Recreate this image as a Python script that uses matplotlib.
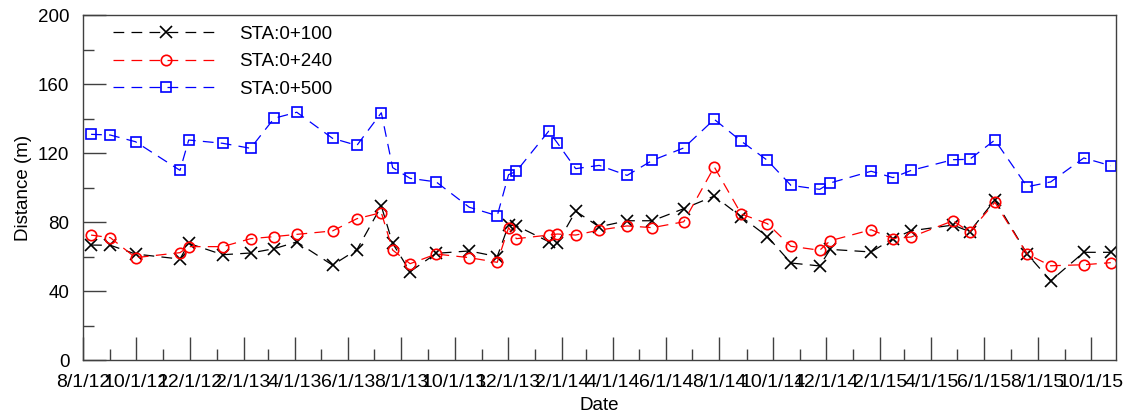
import matplotlib
matplotlib.use("Agg")
import matplotlib.pyplot as plt
import matplotlib.dates as mdates
import numpy as np
from datetime import datetime

dates = ["2012-08-10", "2012-09-01", "2012-09-30", "2012-11-20", "2012-11-30",
         "2013-01-08", "2013-02-09", "2013-03-08", "2013-04-03", "2013-05-14",
         "2013-06-11", "2013-07-09", "2013-07-22", "2013-08-11", "2013-09-10",
         "2013-10-18", "2013-11-19", "2013-12-02", "2013-12-11", "2014-01-17",
         "2014-01-27", "2014-02-17", "2014-03-16", "2014-04-17", "2014-05-16",
         "2014-06-21", "2014-07-26", "2014-08-26", "2014-09-25", "2014-10-22",
         "2014-11-24", "2014-12-06", "2015-01-22", "2015-02-16", "2015-03-09",
         "2015-04-26", "2015-05-15", "2015-06-13", "2015-07-20", "2015-08-16",
         "2015-09-23", "2015-10-24"]

sta_100 = [66.8, 66.7, 61.6, 58.7, 67.8, 61.2, 62.2, 64.7, 68.6, 55.2,
           64.1, 89.4, 67.8, 51.4, 62.0, 63.4, 60.1, 78.4, 78.0, 68.8,
           67.8, 86.4, 77.4, 80.9, 80.9, 87.9, 95.2, 83.2, 71.7, 56.4,
           54.7, 64.3, 62.8, 70.5, 75.1, 78.4, 74.6, 92.9, 61.6, 46.1,
           62.6, 62.6]

sta_240 = [72.6, 71.1, 59.5, 62.4, 65.9, 65.9, 70.5, 71.7, 73.0, 75.0,
           82.1, 85.6, 63.9, 56.0, 61.6, 59.5, 56.8, 76.9, 70.5, 72.6,
           73.2, 72.6, 75.5, 77.9, 76.9, 80.3, 112.1, 84.8, 79.2, 66.1,
           63.8, 69.3, 75.7, 70.5, 71.5, 80.9, 74.4, 91.6, 61.6, 54.8,
           55.4, 56.6]

sta_500 = [131.0, 130.6, 126.7, 110.1, 127.7, 125.8, 122.9, 140.3, 143.8, 128.7,
           124.6, 143.5, 111.7, 105.5, 103.4, 88.7, 83.8, 107.6, 109.6, 132.8,
           126.0, 111.1, 113.0, 107.2, 115.9, 123.1, 139.7, 127.0, 115.9, 101.4,
           99.1, 102.8, 109.6, 105.9, 110.1, 116.3, 116.5, 127.7, 100.6, 103.4,
           117.3, 112.8]

labels = ["STA:0+100", "STA:0+240", "STA:0+500"]
colors = ["black", "red", "blue"]
markers = ["x", "o", "s"]
msizes = [8, 7.5, 7]

plt.rcParams["font.family"] = ["Liberation Sans", "DejaVu Sans"]
plt.rcParams["font.size"] = 13.5

fig = plt.figure(figsize=(11.28, 4.16), dpi=100)
ax = fig.add_axes([0.0738, 0.1339, 0.9156, 0.8293])

x = [datetime.strptime(d, "%Y-%m-%d") for d in dates]
for vals, lab, c, m, ms in zip([sta_100, sta_240, sta_500], labels, colors, markers, msizes):
    ax.plot(x, vals, linestyle=(0, (8.6, 5.8)), lw=0.9, color=c, marker=m,
            markersize=ms, markerfacecolor="none", markeredgecolor=c,
            markeredgewidth=1.2, label=lab)

ax.set_ylim(0, 200)
ax.set_yticks(np.arange(0, 201, 40))
ax.set_yticks(np.arange(20, 200, 40), minor=True)
ax.set_xlim(datetime(2012, 8, 1), datetime(2015, 10, 30))
ax.xaxis.set_major_locator(mdates.MonthLocator(bymonth=[2, 4, 6, 8, 10, 12]))
ax.xaxis.set_minor_locator(mdates.MonthLocator())
ax.xaxis.set_major_formatter(plt.FuncFormatter(
    lambda v, p: (lambda d: f"{d.month}/{d.day}/{d.year % 100:02d}")(mdates.num2date(v))))

spine_c = "#404040"
for s in ax.spines.values():
    s.set_color(spine_c)
    s.set_linewidth(1.0)
ax.tick_params(which="major", direction="in", length=16.5, width=1.0, color=spine_c)
ax.tick_params(which="minor", direction="in", length=8, width=1.0, color=spine_c)
ax.tick_params(axis="x", which="major", pad=10, labelsize=14)
ax.tick_params(axis="y", which="major", pad=10, labelsize=13.5)

ax.set_xlabel("Date", fontsize=13.5, labelpad=4)
ax.set_ylabel("Distance (m)", fontsize=13.5, labelpad=4)

ax.legend(loc="upper left", bbox_to_anchor=(0.0218, 0.991), borderaxespad=0,
          frameon=False, handlelength=5.6, handletextpad=1.1,
          labelspacing=0.55, fontsize=13.5, numpoints=1)

fig.savefig("out.png", dpi=100)
